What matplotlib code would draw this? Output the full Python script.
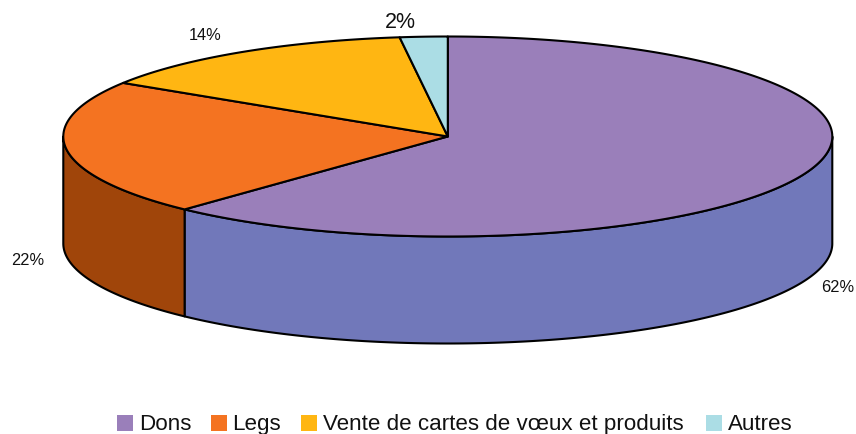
import numpy as np
import matplotlib
matplotlib.use("Agg")
import matplotlib.pyplot as plt
from matplotlib.patches import Polygon, Rectangle

categories = ["Dons", "Legs", "Vente de cartes de vœux et produits", "Autres"]
values = [62, 22, 14, 2]
labels = ["62%", "22%", "14%", "2%"]
top_colors = ["#9A7FBA", "#F47321", "#FFB612", "#ABDDE5"]
side_colors = ["#7178BA", "#A0450A", "#FFB612", "#ABDDE5"]

plt.rcParams['font.family'] = ['Liberation Sans', 'DejaVu Sans']
W, H = 856, 435
fig = plt.figure(figsize=(W/100, H/100), dpi=100)
ax = fig.add_axes([0, 0, 1, 1])
ax.set_xlim(0, W); ax.set_ylim(H, 0); ax.axis("off")

cx, cy, rx, ry, depth = 447.8, 137.5, 384.5, 100, 107
def pt(a):
    return cx + rx*np.sin(a), cy - ry*np.cos(a)

edges = np.cumsum([0] + values) / sum(values) * 2*np.pi
for i in range(len(values)):
    a0, a1 = edges[i], edges[i+1]
    lo, hi = max(a0, np.pi/2), min(a1, 3*np.pi/2)
    if lo < hi:
        t = np.linspace(lo, hi, 200)
        x, y = pt(t)
        xs = np.r_[x, x[::-1]]
        ys = np.r_[y, y[::-1] + depth]
        ax.add_patch(Polygon(np.c_[xs, ys], closed=True, fc=side_colors[i], ec="black", lw=1.5, joinstyle="round"))
for i in range(len(values)):
    t = np.linspace(edges[i], edges[i+1], 300)
    x, y = pt(t)
    ax.add_patch(Polygon(np.c_[np.r_[cx, x], np.r_[cy, y]], closed=True, fc=top_colors[i], ec="black", lw=1.5, joinstyle="round"))

ax.text(838, 288, labels[0], ha="center", va="center", fontsize=11.8, color="#111111")
ax.text(28, 261, labels[1], ha="center", va="center", fontsize=11.8, color="#111111")
ax.text(205.5, 36, labels[2], ha="center", va="center", fontsize=11.8, color="#111111")
ax.text(400, 22, labels[3], ha="center", va="center", fontsize=15.5, color="#111111")

box_x = [117, 211, 301, 706]
text_x = [139, 232, 323, 728]
for bx, tx, c, n in zip(box_x, text_x, top_colors, categories):
    ax.add_patch(Rectangle((bx, 416), 16, 16, fc=c, ec="none"))
    ax.text(tx, 430, n, ha="left", va="baseline", fontsize=16.1, color="#111111")

fig.savefig("out.png", dpi=100)
